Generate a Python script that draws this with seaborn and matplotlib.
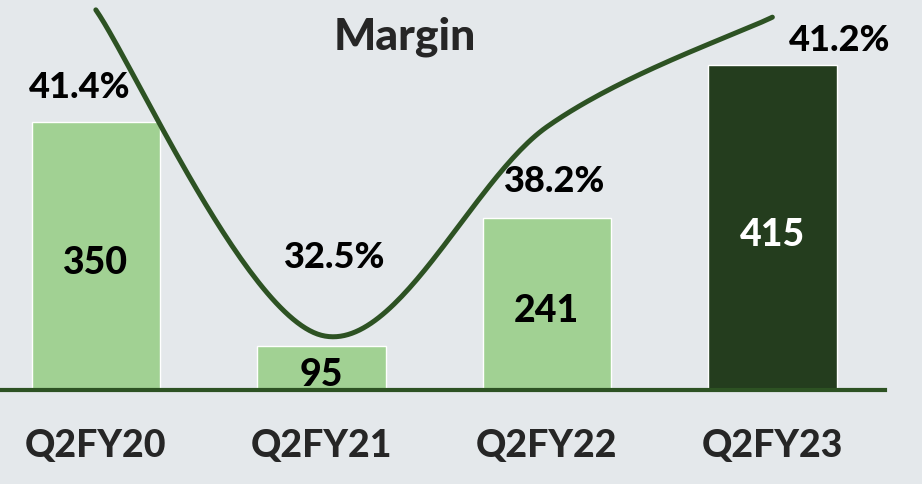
import numpy as np
import matplotlib
matplotlib.use("Agg")
import matplotlib.pyplot as plt
import seaborn as sns

# Data
quarters = ["Q2FY20", "Q2FY21", "Q2FY22", "Q2FY23"]
revenue = [350, 95, 241, 415]
margin = [41.4, 32.5, 38.2, 41.2]

bg = "#e4e8eb"
light_green = "#a1d193"
dark_green = "#243d1e"
line_green = "#2d5223"
bar_colors = [light_green, light_green, light_green, dark_green]

sns.set_style("white")
plt.rcParams["font.family"] = ["Lato", "DejaVu Sans"]

fig = plt.figure(figsize=(9.22, 4.84), dpi=100, facecolor=bg)
ax = fig.add_axes([0.0, 0.194, 0.96, 0.806])
ax.set_facecolor(bg)

sns.barplot(x=quarters, y=revenue, hue=quarters, palette=bar_colors,
            width=0.57, legend=False, ax=ax, saturation=1)
ax.set_xlim(-0.425, 3.5)
ax.set_ylim(44.4, 489)

# value labels inside bars
for i, v in enumerate(revenue):
    col = "white" if i == 3 else "black"
    ax.text(i, 44.4 + (v - 44.4) / 2 - 8, str(v), ha="center", va="center",
            fontsize=27, fontweight="black", color=col)

ax.set_xticks(range(len(quarters)))
ax.set_xticklabels(quarters, fontsize=27, fontweight="black")
ax.set_xticks([0.5, 1.5, 2.5, 3.5], minor=True)
ax.tick_params(axis="x", which="major", length=0, pad=28)
ax.tick_params(axis="x", which="minor", length=10, color="#c8cccf", width=1)
ax.set_yticks([])
ax.set_ylabel("")
for s in ["top", "right", "left"]:
    ax.spines[s].set_visible(False)
ax.spines["bottom"].set_color(line_green)
ax.spines["bottom"].set_linewidth(3)

# margin line on secondary axis
ax2 = ax.twinx()
ax2.set_ylim(31.0, 41.67)
ax2.set_yticks([])
for s in ax2.spines.values():
    s.set_visible(False)

# smooth curve (Excel-style bezier smoothing in display space)
pts = ax2.transData.transform(np.column_stack([np.arange(len(margin)), margin]))
curve = []
n = len(pts)
t = np.linspace(0, 1, 60)[:, None]
for i in range(n - 1):
    p0 = pts[i]
    p3 = pts[i + 1]
    prev = pts[i - 1] if i > 0 else pts[i]
    nxt = pts[i + 2] if i + 2 < n else pts[i + 1]
    c1 = p0 + (p3 - prev) / 6
    c2 = p3 - (nxt - p0) / 6
    seg = ((1 - t) ** 3) * p0 + 3 * ((1 - t) ** 2) * t * c1 + 3 * (1 - t) * t ** 2 * c2 + t ** 3 * p3
    curve.append(seg)
curve = ax2.transData.inverted().transform(np.vstack(curve))
ax2.plot(curve[:, 0], curve[:, 1], color=line_green, lw=3.6, solid_capstyle="round")

# margin labels
offsets = [(-16, -78), (13, 78), (8, -55), (67, -23)]
for i, (m, off) in enumerate(zip(margin, offsets)):
    ax2.annotate(f"{m}%", (i, m), xytext=(off[0] * 0.72, off[1] * 0.72),
                 textcoords="offset points", ha="center", va="center",
                 fontsize=26, fontweight="black", color="black")

fig.text(405 / 922, 1 - 37 / 484, "Margin", ha="center", va="center",
         fontsize=32, fontweight="black")

fig.savefig("out.png", dpi=100, facecolor=bg)
